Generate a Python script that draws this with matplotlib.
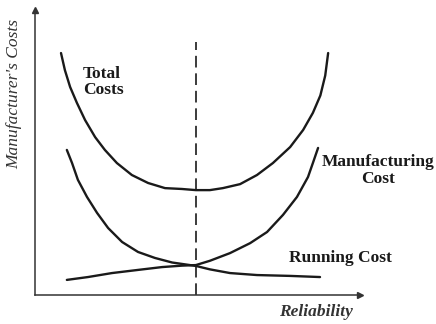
import matplotlib
matplotlib.use("Agg")
import matplotlib.pyplot as plt

# reliability (x) and cost (y) on a 0-100 scale for each curve
total_x = [8.0, 9.2, 10.8, 12.9, 15.4, 18.5, 21.5, 25.2, 29.8, 34.8, 40.0, 45.2,
           49.5, 53.8, 57.8, 63.1, 68.3, 73.2, 78.5, 82.5, 85.5, 87.8, 89.3, 90.2]
total_y = [84.9, 78.9, 73.0, 67.4, 61.4, 55.4, 50.9, 46.3, 42.1, 39.3, 37.5, 37.2,
           36.8, 36.8, 37.5, 38.9, 42.1, 46.3, 51.9, 57.9, 63.9, 70.0, 77.0, 84.9]

manuf_x = [9.8, 16.3, 23.7, 31.7, 39.1, 45.2, 49.5, 53.8, 60.0, 66.2, 71.4, 76.3,
           80.6, 84.0, 85.5, 87.1]
manuf_y = [5.3, 6.3, 7.7, 8.8, 9.8, 10.3, 10.5, 12.0, 14.7, 18.2, 22.1, 28.1,
           34.4, 41.4, 46.3, 51.6]

running_x = [9.8, 11.4, 13.2, 16.0, 19.1, 22.5, 26.8, 31.7, 36.9, 42.2, 49.5, 53.8,
             60.0, 68.3, 78.5, 87.7]
running_y = [50.9, 46.3, 40.4, 34.4, 28.8, 23.5, 18.6, 15.1, 13.0, 11.4, 10.2, 9.0,
             7.7, 7.0, 6.7, 6.3]

optimum_x = 49.5
optimum_top = 88.8

plt.rcParams['font.family'] = ['Liberation Serif', 'DejaVu Serif']

fig = plt.figure(figsize=(4.36, 3.24), dpi=100)
ax = fig.add_axes([35 / 436, 29 / 324, 325 / 436, 285 / 324])
ax.set_xlim(0, 100)
ax.set_ylim(0, 100)

ink = '#1a1a1a'
for xs, ys in [(total_x, total_y), (manuf_x, manuf_y), (running_x, running_y)]:
    ax.plot(xs, ys, color=ink, lw=1.7, solid_capstyle='round', solid_joinstyle='round')
ax.plot([optimum_x, optimum_x], [0, optimum_top], color=ink, lw=1.2,
        dashes=(7, 3.5))

# axes as plain arrows
for side in ['top', 'right']:
    ax.spines[side].set_visible(False)
for side in ['left', 'bottom']:
    ax.spines[side].set_color('#333333')
    ax.spines[side].set_linewidth(1.1)
ax.set_xticks([])
ax.set_yticks([])
ax.plot(1, 0, '>', color='#333333', ms=5, transform=ax.transAxes, clip_on=False)
ax.plot(0, 1, '^', color='#333333', ms=5, transform=ax.transAxes, clip_on=False)

fs = 12.5
ax.text(14.8, 80.5, 'Total\nCosts', fontsize=fs, fontweight='bold', color=ink,
        ha='left', va='top', linespacing=1.05)
ax.text(105.5, 49.5, 'Manufacturing\nCost', fontsize=fs, fontweight='bold', color=ink,
        ha='center', va='top', linespacing=1.05, clip_on=False)
ax.text(78, 13, 'Running Cost', fontsize=fs, fontweight='bold', color=ink,
        ha='left', va='center')

fig.text(316 / 436, 1 - 312 / 324, 'Reliability', fontsize=fs, style='italic',
         fontweight='bold', color='#333333', ha='center', va='center')
fig.text(14 / 436, 1 - 94 / 324, "Manufacturer's Costs", fontsize=fs, style='italic',
         color='#333333', ha='center', va='center', rotation=90)

fig.savefig('out.png', dpi=100)
